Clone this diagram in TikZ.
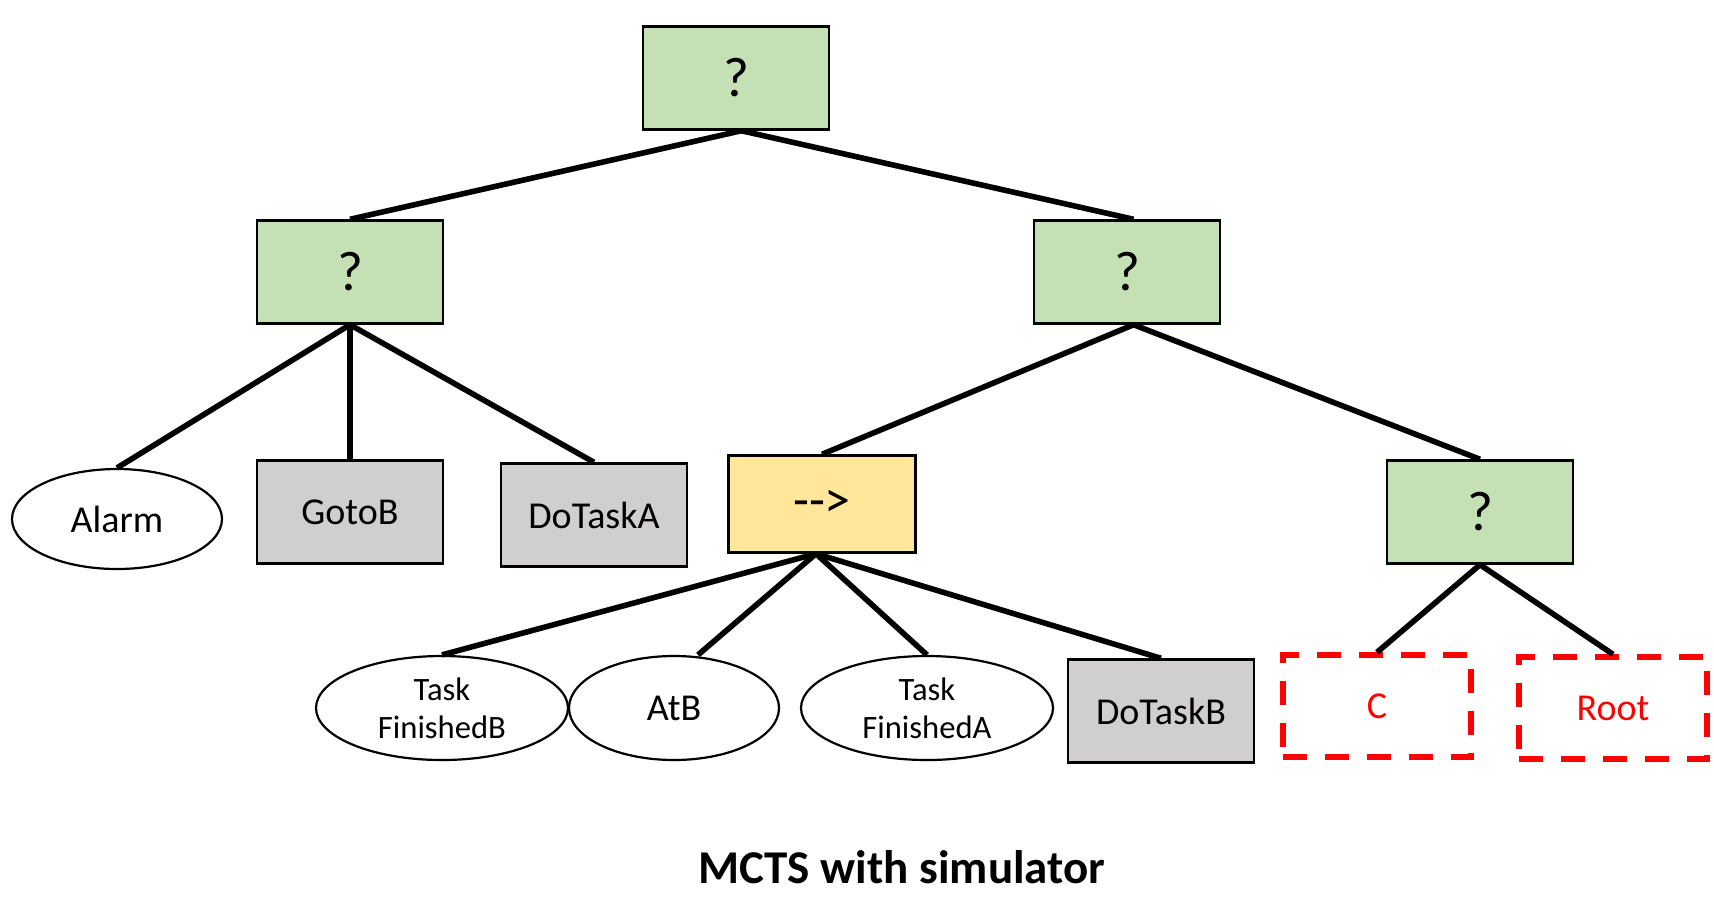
\documentclass[tikz,border=0pt]{standalone}
\usepackage{fontspec}
\setmainfont{Carlito}
\usetikzlibrary{shapes.geometric, positioning}
\definecolor{selgreen}{HTML}{C5E0B4}
\definecolor{actgray}{HTML}{D0CECE}
\definecolor{seqyellow}{HTML}{FFE699}
\tikzstyle{edge} = [line width=2.8pt]
\tikzstyle{selector} = [rectangle, minimum width=93pt, minimum height=51.5pt, draw=black, line width=1.2pt, fill=selgreen, font=\fontsize{28}{32}\selectfont]
\tikzstyle{sequence} = [rectangle, minimum width=93.5pt, minimum height=48.5pt, draw=black, line width=1.2pt, fill=seqyellow, font=\fontsize{26}{30}\selectfont]
\tikzstyle{action} = [rectangle, minimum width=93pt, minimum height=51.5pt, draw=black, line width=1.2pt, fill=actgray]
\tikzstyle{condition} = [ellipse, minimum width=105pt, minimum height=52pt, inner sep=0pt, draw=black, line width=1.1pt, align=center]
\tikzstyle{smalltext} = [minimum width=126pt, font=\fontsize{16.3}{19}\selectfont]
\tikzstyle{missing} = [rectangle, minimum width=94pt, minimum height=51pt, draw=red, line width=2.7pt, dash pattern=on 12pt off 9pt, text=red]

\begin{document}
\begin{tikzpicture}[x=0.5pt, y=-0.5pt, font=\fontsize{19}{23}\selectfont]
\useasboundingbox (0,0) rectangle (1714,902);
% Placement of tree nodes
\node (root) [selector] at (736,78) {?};
\node (selLeft) [selector] at (350,272) {?};
\node (selRight) [selector] at (1127,272) {?};

\node (alarm) [condition, minimum height=50pt] at (117,519) {Alarm};
\node (gotoB) [action] at (350,512) {GotoB};
\node (doTaskA) [action] at (594,515) {DoTaskA};
\node (seqTask) [sequence] at (822,504) {-{}->};
\node (selRoot) [selector] at (1480,512) {?};

\node (taskFinB) [condition, smalltext] at (442,708) {Task\\FinishedB};
\node (atB) [condition] at (674,708) {AtB};
\node (taskFinA) [condition, smalltext] at (927,708) {Task\\FinishedA};
\node (doTaskB) [action] at (1161,711) {DoTaskB};
\node (condC) [missing] at (1377,706) {C};
\node (goRoot) [missing] at (1613,708) {Root};

\node (title) at (902,867) {\fontsize{23.5}{28}\selectfont\bfseries MCTS with simulator};

% Drawing of tree edges
\draw [edge] ([xshift=2.7pt]root.south) -- (selLeft.north);
\draw [edge] ([xshift=2.7pt]root.south) -- ([xshift=3.3pt]selRight.north);

\draw [edge] (selLeft.south) -- (alarm.north);
\draw [edge] (selLeft.south) -- (gotoB.north);
\draw [edge] (selLeft.south) -- (doTaskA.north);

\draw [edge] ([xshift=3.3pt]selRight.south) -- (seqTask.north);
\draw [edge] ([xshift=3.3pt]selRight.south) -- (selRoot.north);

\draw [edge] ([xshift=-3pt]seqTask.south) -- (taskFinB.north);
\draw [edge] ([xshift=-3pt]seqTask.south) -- ([xshift=12pt]atB.north);
\draw [edge] ([xshift=-3pt]seqTask.south) -- (taskFinA.north);
\draw [edge] ([xshift=-3pt]seqTask.south) -- (doTaskB.north);

\draw [edge] (selRoot.south) -- (condC.north);
\draw [edge] (selRoot.south) -- (goRoot.north);

\end{tikzpicture}
\end{document}
